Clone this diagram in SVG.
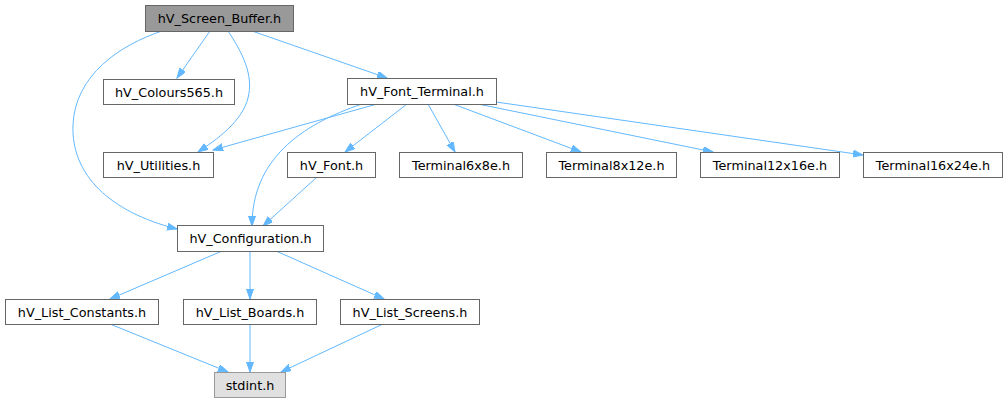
<svg xmlns="http://www.w3.org/2000/svg" width="1007" height="403" viewBox="0 0 1007 403">
<style>
.n rect{fill:#ffffff;stroke:#666666;stroke-width:1}
.n text{font-family:"DejaVu Sans",sans-serif;font-size:12.8px;fill:#000000;text-anchor:middle}
#n0 rect{fill:#999999}
#n14 rect{fill:#e0e0e0;stroke:#999999}
.e path{fill:none;stroke:#63b8ff;stroke-width:1;marker-end:url(#ah)}
</style>
<defs>
<marker id="ah" markerUnits="userSpaceOnUse" markerWidth="11" markerHeight="8" refX="10" refY="3.5" orient="auto">
<path d="M0,0 L10,3.5 L0,7 z" fill="#63b8ff" stroke="#63b8ff" stroke-width="1"/>
</marker>
</defs>
<rect width="1007" height="403" fill="#ffffff"/>
<g id="edges" class="e">
<path d="M210,31 L177,78"/>
<path d="M228,31 C242,52 254,75 248,98 C242,122 216,140 198,152"/>
<path d="M162,31 C120,45 75,75 73,125 C71,175 110,212 177,229"/>
<path d="M252,31 L387,78"/>
<path d="M377,104 L213,150"/>
<path d="M362,104 C300,125 252,160 252,226"/>
<path d="M407,104 L345,152"/>
<path d="M428,104 L455,152"/>
<path d="M453,104 L581,152"/>
<path d="M478,104 L713,152"/>
<path d="M496,102 L863,155"/>
<path d="M317,177 L263,226"/>
<path d="M222,251 L110,299"/>
<path d="M250,251 L250,299"/>
<path d="M276,251 L384,299"/>
<path d="M110,324 L228,372"/>
<path d="M250,324 L250,372"/>
<path d="M383,324 L281,372"/>
</g>
<g id="n0" class="n"><rect x="145.5" y="5.5" width="148" height="26"/><text x="219.5" y="23">hV_Screen_Buffer.h</text></g>
<g id="n1" class="n"><rect x="103.5" y="79.5" width="131" height="25"/><text x="169" y="96.5">hV_Colours565.h</text></g>
<g id="n2" class="n"><rect x="347.5" y="78.5" width="149" height="26"/><text x="422" y="96">hV_Font_Terminal.h</text></g>
<g id="n3" class="n"><rect x="103.5" y="152.5" width="110" height="25"/><text x="158.5" y="169.5">hV_Utilities.h</text></g>
<g id="n4" class="n"><rect x="287.5" y="152.5" width="88" height="25"/><text x="331.5" y="169.5">hV_Font.h</text></g>
<g id="n5" class="n"><rect x="399.5" y="152.5" width="123" height="25"/><text x="461" y="169.5">Terminal6x8e.h</text></g>
<g id="n6" class="n"><rect x="546.5" y="152.5" width="130" height="25"/><text x="611.5" y="169.5">Terminal8x12e.h</text></g>
<g id="n7" class="n"><rect x="700.5" y="152.5" width="139" height="25"/><text x="770" y="169.5">Terminal12x16e.h</text></g>
<g id="n8" class="n"><rect x="863.5" y="152.5" width="139" height="25"/><text x="933" y="169.5">Terminal16x24e.h</text></g>
<g id="n9" class="n"><rect x="177.5" y="225.5" width="146" height="26"/><text x="250.5" y="243">hV_Configuration.h</text></g>
<g id="n10" class="n"><rect x="5.5" y="299.5" width="153" height="25"/><text x="82" y="316.5">hV_List_Constants.h</text></g>
<g id="n11" class="n"><rect x="183.5" y="299.5" width="133" height="25"/><text x="250" y="316.5">hV_List_Boards.h</text></g>
<g id="n12" class="n"><rect x="340.5" y="299.5" width="139" height="25"/><text x="410" y="316.5">hV_List_Screens.h</text></g>
<g id="n14" class="n"><rect x="214.5" y="372.5" width="71" height="25"/><text x="250" y="389.5">stdint.h</text></g>
</svg>
